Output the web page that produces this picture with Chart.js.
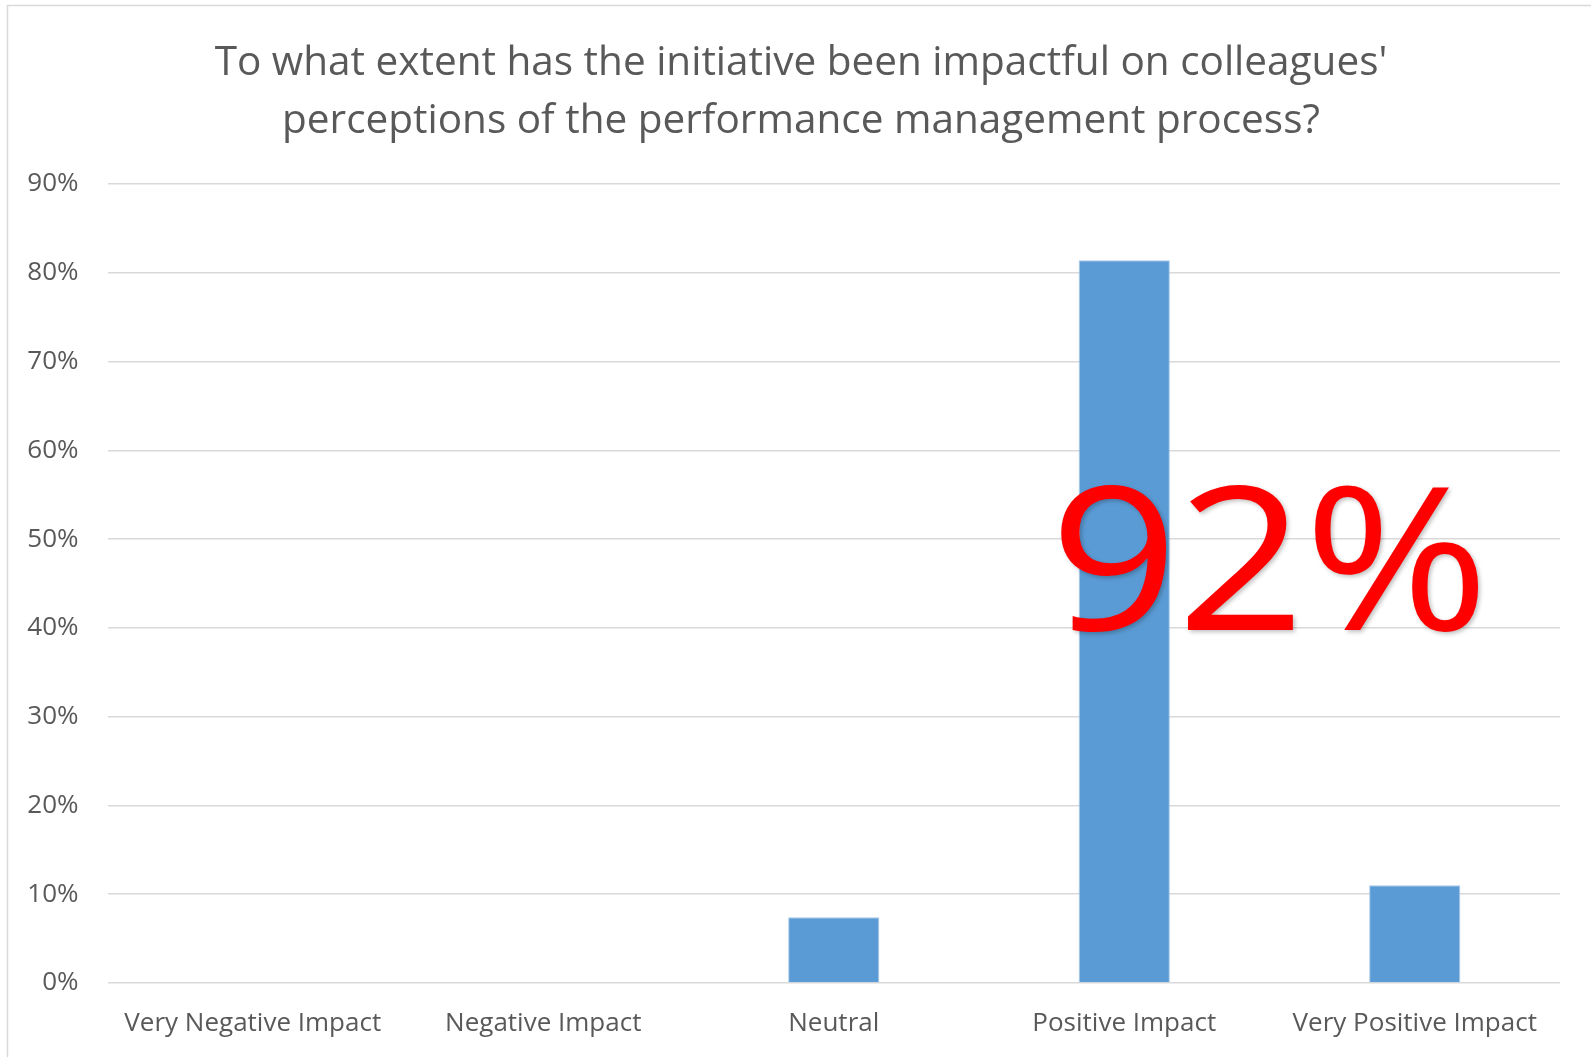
<!DOCTYPE html>
<html>
<head>
<meta charset="utf-8">
<script src="https://cdn.jsdelivr.net/npm/chart.js@4.4.1/dist/chart.umd.min.js"></script>
<style>
  html, body { margin: 0; padding: 0; background: #fff; }
  #wrap { width: 1591px; height: 1057px; position: relative; }
</style>
</head>
<body>
<div id="wrap"><canvas id="c" width="1591" height="1057"></canvas></div>
<script>
// Survey responses (share of colleagues)
const categories = ['Very Negative Impact', 'Negative Impact', 'Neutral', 'Positive Impact', 'Very Positive Impact'];
const shares = [0, 0, 7.4, 81.4, 11.0];
const yTicks = [0, 10, 20, 30, 40, 50, 60, 70, 80, 90];
const titleLines = [
  "To what extent has the initiative been impactful on colleagues'",
  'perceptions of the performance management process?'
];
// Headline figure: positive + very positive responses
const positiveShare = Math.round(shares[3] + shares[4]);

const TEXT = '#595959';
const GRID = '#d9d9d9';
const FONT = "'Open Sans', 'Noto Sans', sans-serif";

const frameAndTitle = {
  id: 'frameAndTitle',
  beforeDraw(chart) {
    const ctx = chart.ctx;
    ctx.save();
    ctx.fillStyle = '#fff';
    ctx.fillRect(0, 0, chart.width, chart.height);
    ctx.strokeStyle = GRID;
    ctx.lineWidth = 1.5;
    ctx.beginPath();
    ctx.moveTo(7.5, chart.height + 2);
    ctx.lineTo(7.5, 5.5);
    ctx.lineTo(chart.width + 2, 5.5);
    ctx.stroke();
    ctx.fillStyle = TEXT;
    ctx.font = '40.5px ' + FONT;
    ctx.textAlign = 'center';
    ctx.textBaseline = 'alphabetic';
    ctx.fillText(titleLines[0], 801, 75);
    ctx.fillText(titleLines[1], 801, 133);
    ctx.restore();
  },
  afterDraw(chart) {
    const ctx = chart.ctx;
    ctx.save();
    ctx.fillStyle = '#ff0000';
    ctx.font = '200px ' + FONT;
    ctx.letterSpacing = '-1px';
    ctx.textAlign = 'left';
    ctx.textBaseline = 'alphabetic';
    ctx.shadowColor = 'rgba(0,0,0,0.25)';
    ctx.shadowBlur = 4;
    ctx.shadowOffsetX = 2;
    ctx.shadowOffsetY = 2;
    ctx.translate(1050, 630);
    ctx.scale(1.12, 1);
    ctx.fillText(positiveShare + '%', 0, 0);
    ctx.restore();
  }
};

new Chart(document.getElementById('c'), {
  type: 'bar',
  data: {
    labels: categories,
    datasets: [{
      data: shares,
      backgroundColor: '#5b9bd5',
      borderColor: 'rgba(160,196,232,0.9)',
      borderWidth: 1,
      categoryPercentage: 1,
      barPercentage: 0.314
    }]
  },
  plugins: [frameAndTitle],
  options: {
    responsive: false,
    animation: false,
    devicePixelRatio: 1,
    layout: { padding: { top: 184, right: 31, left: 0, bottom: 0 } },
    plugins: {
      legend: { display: false },
      title: { display: false },
      tooltip: { enabled: false }
    },
    scales: {
      x: {
        grid: { display: false, drawTicks: false },
        border: { display: false },
        ticks: { color: TEXT, font: { family: FONT, size: 26 }, padding: 25, maxRotation: 0 },
        afterFit(scale) { scale.height = 74; }
      },
      y: {
        min: 0,
        max: 90,
        grid: { color: GRID, lineWidth: 1.5, drawTicks: false },
        border: { display: false },
        ticks: {
          stepSize: 10,
          color: TEXT,
          font: { family: FONT, size: 26 },
          padding: 29,
          callback: (v) => yTicks.includes(v) ? v + '%' : ''
        },
        afterFit(scale) { scale.width = 107.5; }
      }
    }
  }
});
</script>
</body>
</html>
